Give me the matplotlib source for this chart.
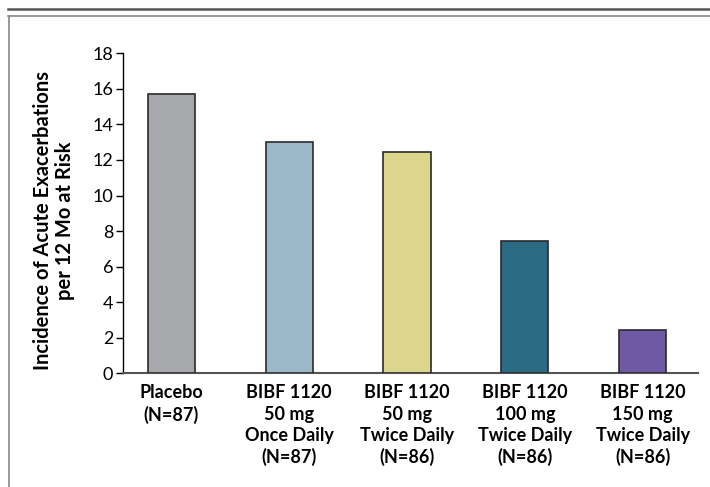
import matplotlib
matplotlib.use("Agg")
import matplotlib.pyplot as plt
from matplotlib.lines import Line2D

plt.rcParams["font.family"] = ["Lato", "DejaVu Sans"]

# data
groups = [
    "Placebo\n(N=87)",
    "BIBF 1120\n50 mg\nOnce Daily\n(N=87)",
    "BIBF 1120\n50 mg\nTwice Daily\n(N=86)",
    "BIBF 1120\n100 mg\nTwice Daily\n(N=86)",
    "BIBF 1120\n150 mg\nTwice Daily\n(N=86)",
]
incidence = [15.7, 13.0, 12.45, 7.45, 2.42]
bar_colors = ["#a7a8ab", "#9bb8c9", "#dcd68d", "#2a6a82", "#7059a4"]
yticks = [0, 2, 4, 6, 8, 10, 12, 14, 16, 18]

W, H = 710, 487
fig = plt.figure(figsize=(W / 100, H / 100), dpi=100)

# axes placed in pixel terms
left, right, top, bottom = 123, 698, 53.3, 373.3
ax = fig.add_axes([left / W, 1 - bottom / H, (right - left) / W, (bottom - top) / H])

x = list(range(len(groups)))
ax.bar(x, incidence, width=0.40, color=bar_colors, edgecolor="#2b2b2b",
       linewidth=1.2, zorder=3)

ax.set_xlim(-0.41, 4.47)
ax.set_ylim(0, 18)
ax.set_yticks(yticks)
ax.set_yticklabels([str(t) for t in yticks], fontsize=13)
ax.tick_params(axis="y", direction="out", length=5, width=1, pad=2, color="black")
ax.set_xticks(x)
ax.set_xticklabels(groups, fontsize=13, fontweight="bold", linespacing=1.3)
ax.tick_params(axis="x", length=0, pad=8)

for s in ["top", "right"]:
    ax.spines[s].set_visible(False)
ax.spines["left"].set_color("black")
ax.spines["left"].set_linewidth(1)
ax.spines["bottom"].set_color("#555555")
ax.spines["bottom"].set_linewidth(1.5)

fig.text(54 / W, 1 - 221 / H,
         "Incidence of Acute Exacerbations\nper 12 Mo at Risk",
         rotation=90, ha="center", va="center", fontsize=14.5,
         fontweight="bold", linespacing=1.08)

# frame lines around the figure
fig.add_artist(Line2D([8 / W, 1], [1 - 8.5 / H, 1 - 8.5 / H],
                      transform=fig.transFigure, color="#555555", linewidth=1.8))
fig.add_artist(Line2D([8 / W, 1], [1 - 15.5 / H, 1 - 15.5 / H],
                      transform=fig.transFigure, color="#888888", linewidth=1.2))
fig.add_artist(Line2D([9 / W, 9 / W], [1 - 15.5 / H, 0],
                      transform=fig.transFigure, color="#888888", linewidth=1.2))

fig.savefig("out.png", dpi=100)
plt.close(fig)
